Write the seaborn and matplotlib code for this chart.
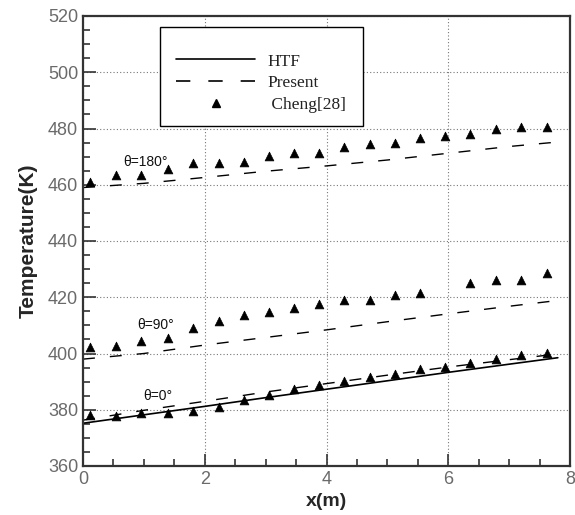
import matplotlib
matplotlib.use("Agg")
import matplotlib.pyplot as plt
from matplotlib.ticker import MultipleLocator
from matplotlib.lines import Line2D
from matplotlib.patches import Rectangle
import seaborn as sns

# Cheng[28] reference points (x in m, temperature in K)
x_cheng = [0.11, 0.54, 0.96, 1.39, 1.81, 2.23, 2.64, 3.06, 3.46, 3.88,
           4.29, 4.71, 5.12, 5.53, 5.95, 6.36, 6.78, 7.20, 7.62]
cheng_0 = [378.3, 377.7, 378.8, 379.0, 379.5, 380.9, 383.3, 385.4, 387.5, 388.7,
           390.1, 391.6, 392.6, 394.4, 395.2, 396.6, 398.0, 399.4, 400.2]
cheng_180 = [460.9, 463.4, 463.4, 465.6, 467.9, 467.9, 468.0, 470.2, 471.2, 471.4,
             473.5, 474.4, 474.7, 476.7, 477.3, 478.2, 479.7, 480.6, 480.6]
x_cheng_90 = [0.11, 0.54, 0.96, 1.39, 1.81, 2.23, 2.64, 3.06, 3.46, 3.88,
              4.29, 4.71, 5.12, 5.53, 6.36, 6.78, 7.20, 7.62]
cheng_90 = [402.3, 402.6, 404.4, 405.5, 408.9, 411.6, 413.6, 414.8, 416.3, 417.5,
            418.9, 418.9, 420.7, 421.5, 424.9, 426.0, 426.0, 428.7]

# Present model
x_present = [0, 1, 2, 3, 4, 5, 6, 7, 7.7]
present_0 = [376.3, 379.8, 383.0, 386.3, 389.3, 392.3, 395.2, 397.8, 399.6]
present_90 = [398.0, 400.0, 403.0, 405.7, 408.4, 411.3, 414.1, 416.8, 418.6]
present_180 = [459.0, 460.5, 462.6, 464.8, 466.7, 468.8, 471.2, 473.6, 475.0]

# Heat transfer fluid temperature
x_htf = [0, 1, 2, 3, 4, 5, 6, 7, 7.8]
htf = [375.2, 378.2, 381.2, 384.3, 387.3, 390.3, 393.3, 396.2, 398.5]

angle_labels = ["θ=180°", "θ=90°", "θ=0°"]
angle_pos = [(0.66, 468.0), (0.89, 410.0), (0.99, 384.8)]
legend_labels = ["HTF", "Present", " Cheng[28]"]

sns.set_style("ticks")
plt.rcParams["font.family"] = ["Liberation Sans", "DejaVu Sans"]

fig = plt.figure(figsize=(5.75, 5.15), dpi=100)
ax = fig.add_axes([83 / 575, 1 - 466 / 515, (570 - 83) / 575, (466 - 16) / 515])

dash = (8.6, 10.8)
sns.lineplot(x=x_htf, y=htf, ax=ax, color="black", linewidth=1.2, sort=False)
for ys in (present_0, present_90, present_180):
    sns.lineplot(x=x_present, y=ys, ax=ax, color="black", linewidth=1.0,
                 sort=False).lines[-1].set_dashes(dash)
for xs, ys in ((x_cheng, cheng_0), (x_cheng_90, cheng_90), (x_cheng, cheng_180)):
    sns.scatterplot(x=xs, y=ys, ax=ax, marker="^", color="black", s=40,
                    edgecolor="black", linewidth=0.5, zorder=3)

ax.set_xlim(0, 8)
ax.set_ylim(360, 520)
ax.xaxis.set_major_locator(MultipleLocator(2))
ax.xaxis.set_minor_locator(MultipleLocator(0.5))
ax.yaxis.set_major_locator(MultipleLocator(20))
ax.yaxis.set_minor_locator(MultipleLocator(5))
ax.tick_params(which="both", direction="in", top=False, right=False,
               colors="#333333", labelcolor="#6a6a6a", labelsize=13, width=1.2)
ax.tick_params(which="major", length=9)
ax.tick_params(which="minor", length=5)
ax.grid(True, which="major", linestyle=(0, (1, 2)), color="#777777", linewidth=0.8)
for sp in ax.spines.values():
    sp.set_color("#333333")
    sp.set_linewidth(1.6)

ax.set_xlabel("x(m)", fontsize=14, fontweight="bold", labelpad=4)
ax.set_ylabel("Temperature(K)", fontsize=15, fontweight="bold", labelpad=7)

for txt, (tx, ty) in zip(angle_labels, angle_pos):
    ax.text(tx, ty, txt, fontsize=10, va="center", ha="left", color="#111111")

# legend: frame drawn as its own box, entries placed inside it
ax.add_patch(Rectangle((0.158, 0.7556), 0.575 - 0.158, 0.9756 - 0.7556,
                       transform=ax.transAxes, facecolor="white",
                       edgecolor="black", linewidth=1.0, zorder=4))
handles = [
    Line2D([], [], color="black", linewidth=1.2),
    Line2D([], [], color="black", linewidth=1.2, dashes=dash),
    Line2D([], [], color="black", marker="^", linestyle="none", markersize=6),
]
leg = ax.legend(handles, legend_labels,
                loc="upper left", bbox_to_anchor=(0.191, 0.917),
                prop={"family": ["Liberation Serif"], "size": 12.5},
                handlelength=4.55, handletextpad=0.7, labelspacing=0.33,
                borderpad=0, borderaxespad=0, frameon=False)
leg.set_zorder(5)
for t in leg.get_texts():
    t.set_color("#222222")

fig.savefig("out.png", dpi=100)
